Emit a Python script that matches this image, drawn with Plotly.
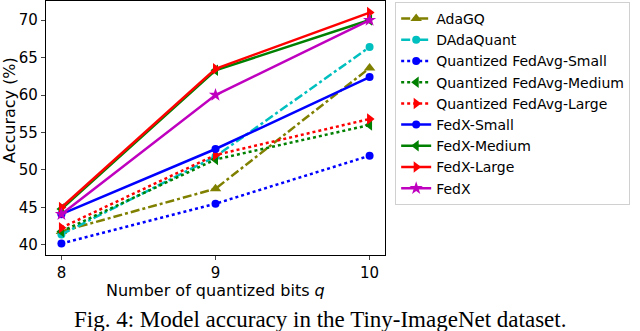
import plotly.graph_objects as go

# quantized bits (x axis)
bits = [8, 9, 10]

# accuracy (%)
adagq = [41.8, 47.5, 63.6]
dadaquant = [41.4, 51.8, 66.4]
qfedavg_small = [40.2, 45.5, 51.9]
qfedavg_medium = [41.8, 51.4, 56.0]
qfedavg_large = [42.3, 52.0, 56.8]
fedx_small = [44.1, 52.8, 62.4]
fedx_medium = [44.8, 63.3, 70.0]
fedx_large = [45.0, 63.5, 71.0]
fedx = [44.1, 60.0, 70.0]

series = [
    ("AdaGQ", adagq, "#808000", "dashdot", "triangle-up"),
    ("DAdaQuant", dadaquant, "#00bfbf", "dashdot", "circle"),
    ("Quantized FedAvg-Small", qfedavg_small, "#0000ff", "dot", "circle"),
    ("Quantized FedAvg-Medium", qfedavg_medium, "#008000", "dot", "triangle-left"),
    ("Quantized FedAvg-Large", qfedavg_large, "#ff0000", "dot", "triangle-right"),
    ("FedX-Small", fedx_small, "#0000ff", "solid", "circle"),
    ("FedX-Medium", fedx_medium, "#008000", "solid", "triangle-left"),
    ("FedX-Large", fedx_large, "#ff0000", "solid", "triangle-right"),
    ("FedX", fedx, "#bf00bf", "solid", "star"),
]

fig = go.Figure()
for name, vals, col, dash, sym in series:
    fig.add_trace(go.Scatter(
        x=bits, y=vals, name=name, mode="lines+markers",
        line=dict(color=col, width=2.5, dash=dash),
        marker=dict(color=col, symbol=sym, size=10 if sym != "circle" else 8),
    ))

tick_font = dict(family="DejaVu Sans", size=15, color="black")
title_font = dict(family="DejaVu Sans", size=16, color="black")

fig.update_layout(
    width=640, height=331,
    margin=dict(l=46, r=255, t=1, b=76),
    plot_bgcolor="white", paper_bgcolor="white",
    font=tick_font,
    legend=dict(
        x=1.03, y=0.996, xanchor="left", yanchor="top",
        bgcolor="white", bordercolor="#d0d0d0", borderwidth=1,
        font=dict(family="DejaVu Sans", size=14, color="black"),
        tracegroupgap=0,
    ),
    xaxis=dict(
        range=[7.9, 10.1], tickvals=bits, ticks="outside", ticklen=4,
        showline=True, linecolor="black", linewidth=1.2, mirror=True,
        showgrid=False, zeroline=False, tickfont=tick_font, automargin=False,
    ),
    yaxis=dict(
        range=[38.66, 72.54], tickvals=[40, 45, 50, 55, 60, 65, 70], ticks="outside", ticklen=4,
        showline=True, linecolor="black", linewidth=1.2, mirror=True,
        showgrid=False, zeroline=False, tickfont=tick_font, automargin=False,
    ),
)

# axis titles placed as annotations so the plot box stays where it is
fig.add_annotation(
    text="Number of quantized bits <i>q</i>",
    xref="paper", yref="paper", x=(215 - 46) / 339, y=-(290 - 255) / 254,
    xanchor="center", yanchor="middle", showarrow=False, font=title_font,
)
fig.add_annotation(
    text="Accuracy (%)", textangle=-90,
    xref="paper", yref="paper", x=-(46 - 9) / 339, y=(255 - 110) / 254,
    xanchor="center", yanchor="middle", showarrow=False, font=title_font,
)

fig.add_annotation(
    text="Fig. 4: Model accuracy in the Tiny-ImageNet dataset.",
    xref="paper", yref="paper", x=(320 - 46) / 339, y=-(319 - 255) / 254,
    xanchor="center", yanchor="middle", showarrow=False,
    font=dict(family="Liberation Serif", size=23, color="black"),
)

# page body has a default 8px margin; drop it so the figure sits at the corner
fig.write_html("out.html", config={"displayModeBar": False},
               post_script="document.body.style.margin='0';")
